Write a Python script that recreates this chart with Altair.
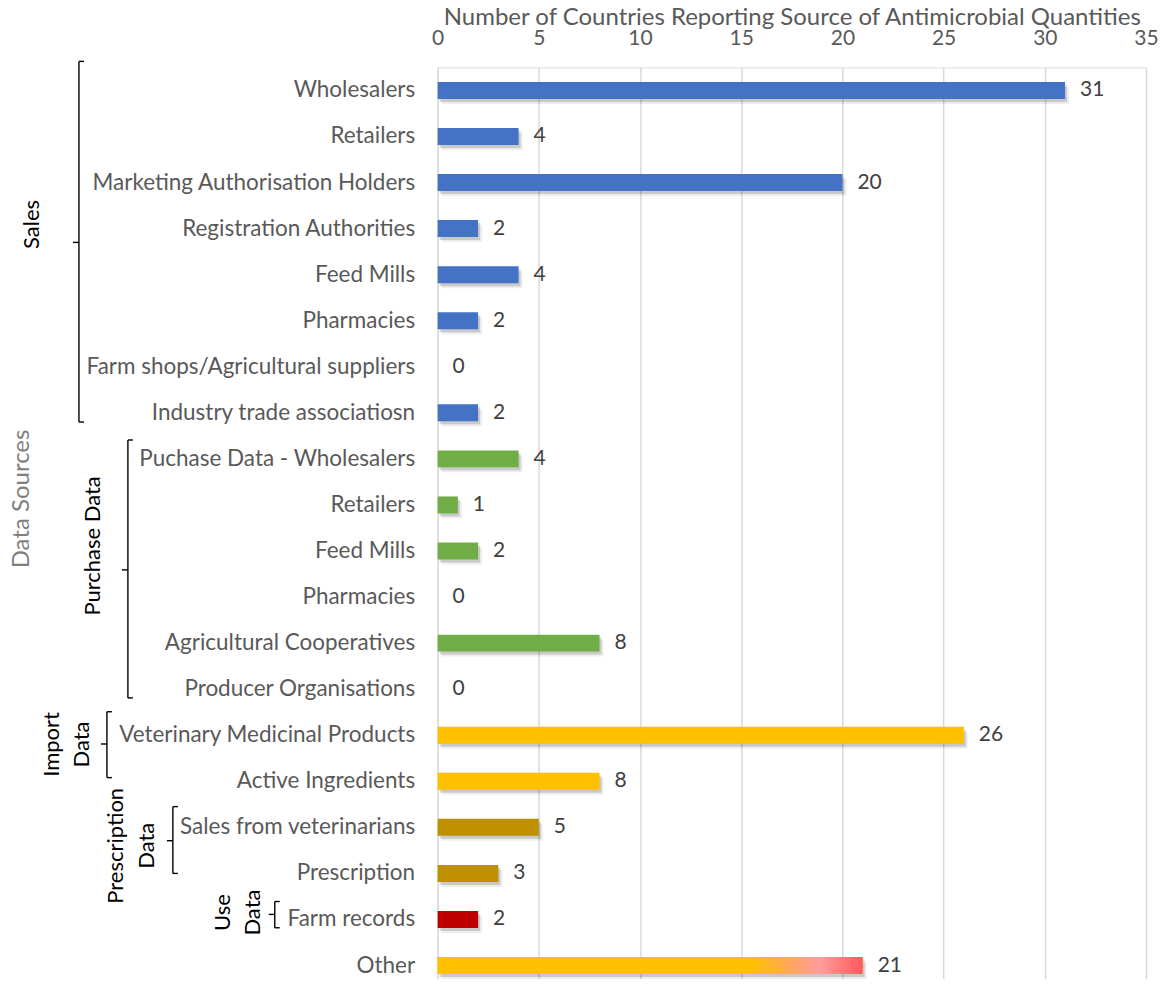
import altair as alt
import pandas as pd

# ---------------- data ----------------
labels = [
    "Wholesalers", "Retailers", "Marketing Authorisation Holders", "Registration Authorities",
    "Feed Mills", "Pharmacies", "Farm shops/Agricultural suppliers", "Industry trade associatiosn",
    "Puchase Data - Wholesalers", "Retailers", "Feed Mills", "Pharmacies",
    "Agricultural Cooperatives", "Producer Organisations",
    "Veterinary Medicinal Products", "Active Ingredients",
    "Sales from veterinarians", "Prescription",
    "Farm records", "Other",
]
values = [31, 4, 20, 2, 4, 2, 0, 2, 4, 1, 2, 0, 8, 0, 26, 8, 5, 3, 2, 21]
groups = (["Sales"] * 8 + ["Purchase Data"] * 6 + ["Import Data"] * 2
          + ["Prescription Data"] * 2 + ["Use Data"] + ["Other"])

group_names = ["Sales", "Purchase Data", "Import Data", "Prescription Data", "Use Data", "Other"]
x_ticks = [0, 5, 10, 15, 20, 25, 30, 35]
axis_title = "Number of Countries Reporting Source of Antimicrobial Quantities"

# group brackets, in row units (0 = top of first row, 20 = bottom of last)
bracket_top = [-0.13, 8.09, 13.99, 16.05, 18.11]
bracket_bottom = [7.70, 13.69, 15.42, 17.50, 18.68]
bracket_mid = [3.80, 10.91, 14.69, 16.79, 18.39]

group_label_text = ["Sales", "Purchase Data", "Import", "Data", "Prescription", "Data", "Use", "Data"]
group_label_row = [3.41, 10.39, 14.70, 14.70, 16.90, 16.90, 18.35, 18.35]
outer_label_text = ["Data Sources"]
outer_label_row = [9.37]

# ---------------- layout / style ----------------
FONT = "Lato"
W, H = 709, 922
LEFT, TOP = 438, 67
group_colors = ["#4472C4", "#70AD47", "#FFC000", "#BF9000", "#C00000", "#FFC000"]
bracket_x_px = [79, 128, 107, 173, 275]
group_label_x_px = [32, 93, 52, 82, 116, 147, 223, 253]
outer_label_x_px = [22]

keys = [f"{l}|{i}" for i, l in enumerate(labels)]
df = pd.DataFrame({"key": keys, "value": values, "group": groups})

y_enc = alt.Y(
    "key:N", sort=keys,
    scale=alt.Scale(paddingInner=0, paddingOuter=0),
    axis=alt.Axis(title=None, labelExpr="split(datum.label, '|')[0]", labelFont=FONT,
                  labelFontSize=22.5, labelColor="#595959", labelPadding=23, labelLimit=600,
                  ticks=False, domain=False, grid=False),
)
x_enc = alt.X(
    "value:Q", scale=alt.Scale(domain=[0, 35], nice=False),
    axis=alt.Axis(orient="top", values=x_ticks, title=axis_title, titleFont=FONT,
                  titleFontSize=24, titleFontWeight="normal", titleColor="#595959",
                  titleY=-43, titleBaseline="alphabetic",
                  labelFont=FONT, labelFontSize=21, labelColor="#595959", labelPadding=23,
                  labelBaseline="alphabetic",
                  labelFlush=False, ticks=False, domain=False, grid=True,
                  gridColor="#D9D9D9", gridWidth=1.5),
)

base = alt.Chart(df)
BAR_H = 17
shadow1 = base.mark_bar(height=BAR_H, xOffset=4, x2Offset=4, yOffset=5, y2Offset=5,
                        color="#000000", opacity=0.07).encode(x=x_enc, y=y_enc)
shadow2 = base.mark_bar(height=BAR_H, xOffset=2, x2Offset=2, yOffset=3, y2Offset=3,
                        color="#000000", opacity=0.15).encode(x=x_enc, y=y_enc)
bars = base.mark_bar(height=BAR_H).encode(
    x=x_enc, y=y_enc,
    color=alt.Color("group:N", scale=alt.Scale(domain=group_names, range=group_colors), legend=None),
)
grad = alt.LinearGradient(
    gradient="linear", x1=0, x2=1, y1=0, y2=0,
    stops=[alt.GradientStop(offset=0, color="#FFC000"),
           alt.GradientStop(offset=0.74, color="#FFC000"),
           alt.GradientStop(offset=0.84, color="#FFA468"),
           alt.GradientStop(offset=0.9, color="#FF9C9C"),
           alt.GradientStop(offset=1, color="#FF5A5A")],
)
other = base.transform_filter(alt.datum.group == "Other").mark_bar(
    height=BAR_H, color=grad).encode(x=x_enc, y=y_enc)
text = base.mark_text(align="left", baseline="middle", dx=15, font=FONT, fontSize=21,
                      color="#404040").encode(x=x_enc, y=y_enc, text="value:Q")

main = alt.layer(shadow1, shadow2, bars, other, text)

# ---------------- brackets & group labels ----------------
row_scale = alt.Scale(domain=[0, 20], range=[0, H], nice=False, zero=False)
segs = []
for xp, t, b, m in zip(bracket_x_px, bracket_top, bracket_bottom, bracket_mid):
    xv = xp - LEFT
    segs += [
        dict(x1=xv, x2=xv, y1=t, y2=b),
        dict(x1=xv, x2=xv + 5, y1=t, y2=t),
        dict(x1=xv, x2=xv + 5, y1=b, y2=b),
        dict(x1=xv - 6, x2=xv, y1=m, y2=m),
    ]
seg_df = pd.DataFrame(segs)
brackets = alt.Chart(seg_df).mark_rule(color="#000000", strokeWidth=1.4).encode(
    x=alt.X("x1:Q", scale=None, axis=None), x2="x2:Q",
    y=alt.Y("y1:Q", scale=row_scale, axis=None), y2="y2:Q",
)

gl_df = pd.DataFrame({"text": group_label_text, "row": group_label_row,
                      "x": [p - LEFT for p in group_label_x_px]})
glabels = alt.Chart(gl_df).mark_text(angle=270, align="center", baseline="middle", font=FONT,
                                     fontSize=22, color="#000000").encode(
    x=alt.X("x:Q", scale=None, axis=None), y=alt.Y("row:Q", scale=row_scale, axis=None),
    text="text:N",
)
ol_df = pd.DataFrame({"text": outer_label_text, "row": outer_label_row,
                      "x": [p - LEFT for p in outer_label_x_px]})
olabels = alt.Chart(ol_df).mark_text(angle=270, align="center", baseline="middle", font=FONT,
                                     fontSize=24, color="#7F7F7F").encode(
    x=alt.X("x:Q", scale=None, axis=None), y=alt.Y("row:Q", scale=row_scale, axis=None),
    text="text:N",
)
annot = alt.layer(brackets, glabels, olabels)

chart = alt.layer(main, annot).resolve_scale(x="independent", y="independent").properties(
    width=W, height=H,
    padding={"left": LEFT - 8, "top": TOP - 8, "right": 12, "bottom": -10},
    autosize=alt.AutoSizeParams(type="none"),
).configure_view(stroke=None).configure(background="white")

chart.save("out.html", embed_options={"renderer": "svg", "actions": False})
